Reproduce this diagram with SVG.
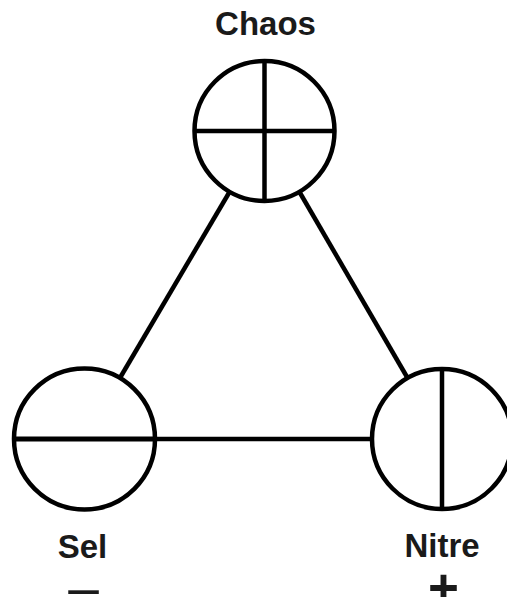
<svg xmlns="http://www.w3.org/2000/svg" width="507" height="597" viewBox="0 0 507 597">
<style>
.ring{fill:#fff;stroke:#000;stroke-width:4.5}
.ln{stroke:#000;stroke-width:4.5;fill:none}
.lbl{font-family:"Liberation Sans",Arial,sans-serif;font-weight:bold;font-size:33px;fill:#1a1a1a;text-anchor:middle}
.sign{font-family:"Liberation Sans",Arial,sans-serif;fill:#1a1a1a;text-anchor:middle}
</style>
<rect width="507" height="597" fill="#fff"/>
<g id="connectors">
<line class="ln" x1="229.5" y1="192" x2="120.5" y2="377"/>
<line class="ln" x1="299.5" y1="192" x2="407" y2="377"/>
<line class="ln" x1="155" y1="439" x2="372" y2="439"/>
</g>
<g id="chaos">
<circle class="ring" cx="264.5" cy="131" r="70"/>
<line class="ln" x1="194.5" y1="131" x2="334.5" y2="131"/>
<line class="ln" x1="264.5" y1="61" x2="264.5" y2="201"/>
<text class="lbl" x="265.5" y="35">Chaos</text>
</g>
<g id="sel">
<circle class="ring" cx="84.5" cy="439" r="70.5"/>
<line class="ln" x1="14" y1="439" x2="155" y2="439" style="stroke-width:5"/>
<text class="lbl" x="82.5" y="558">Sel</text>
<text class="sign" x="83.5" y="606" font-size="55">–</text>
</g>
<g id="nitre">
<circle class="ring" cx="442" cy="439" r="70"/>
<line class="ln" x1="442" y1="369" x2="442" y2="509"/>
<text class="lbl" x="442" y="557">Nitre</text>
<text class="sign" x="443.5" y="606" font-size="53" font-weight="bold">+</text>
</g>
</svg>
